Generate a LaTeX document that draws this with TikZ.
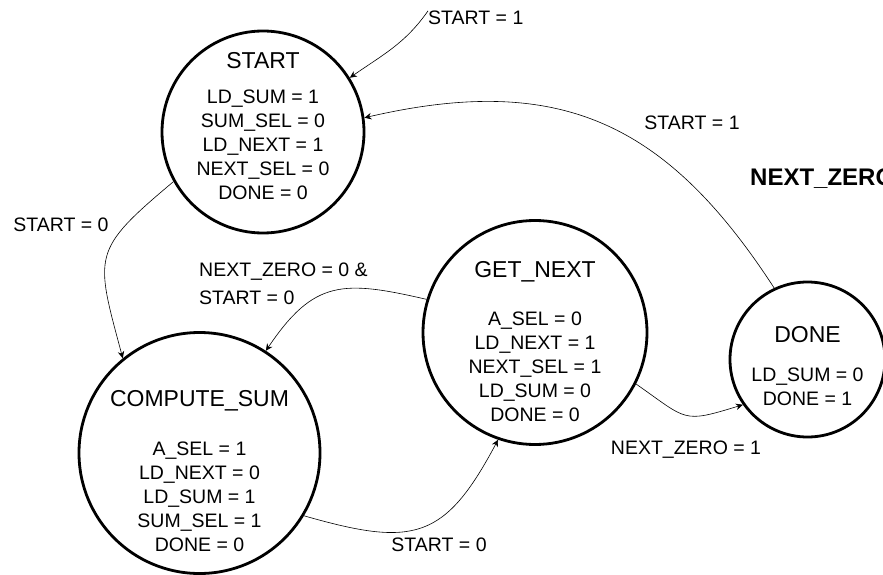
\documentclass[tikz,border=0pt]{standalone}
\usepackage{fontspec}
\setmainfont{Liberation Sans}
\usetikzlibrary{arrows.meta, calc}

\begin{document}
\begin{tikzpicture}[
    x=1pt, y=1pt,
    state/.style={draw, circle, line width=2.8pt, inner sep=0pt},
    sname/.style={inner sep=0pt, font=\fontsize{23}{27}\selectfont},
    sbody/.style={align=center, inner sep=0pt, font=\fontsize{19.5}{24}\selectfont},
    lbl/.style={inner sep=0pt, font=\fontsize{19.5}{28}\selectfont},
    arrow/.style={-{Stealth[length=7pt, width=6.5pt]}, line width=0.6pt}
]
\useasboundingbox (0,0) rectangle (883,-575);

% States
\node[state, minimum size=202pt] (start) at (263,-132) {};
\node[state, minimum size=241pt] (cs) at (199.5,-453) {};
\node[state, minimum size=224pt] (gn) at (535,-332.5) {};
\node[state, minimum size=155pt] (done) at (807.5,-359.5) {};

% State names and outputs
\node[sname] (startname) at ($(start)+(0,71)$) {START};
\node[sbody] (startout) at ($(start)+(0,-13)$) {LD\_SUM = 1\\ SUM\_SEL = 0\\ LD\_NEXT = 1\\ NEXT\_SEL = 0\\ DONE = 0};

\node[sname] (csname) at ($(cs)+(0,52)$) {COMPUTE\_SUM};
\node[sbody] (csout) at ($(cs)+(0,-43.5)$) {A\_SEL = 1\\ LD\_NEXT = 0\\ LD\_SUM = 1\\ SUM\_SEL = 1\\ DONE = 0};

\node[sname] (gnname) at ($(gn)+(0,61)$) {GET\_NEXT};
\node[sbody] (gnout) at ($(gn)+(0,-34)$) {A\_SEL = 0\\ LD\_NEXT = 1\\ NEXT\_SEL = 1\\ LD\_SUM = 0\\ DONE = 0};

\node[sname] (donename) at ($(done)+(0,24.5)$) {DONE};
\node[sbody] (doneout) at ($(done)+(0,-27)$) {LD\_SUM = 0\\ DONE = 1};

% Transition labels
\node[lbl, anchor=west] (initlbl) at (428,-18) {START = 1};
\node[lbl] (restartlbl) at (692,-123) {START = 1};
\node[lbl] (golbl) at (61,-225) {START = 0};
\node[lbl, align=left, anchor=west] (looplbl) at (199,-284) {NEXT\_ZERO = 0 \&\\ START = 0};
\node[lbl] (nextlbl) at (439,-545) {START = 0};
\node[lbl] (zerolbl) at (686,-450) {NEXT\_ZERO = 1};
\node[inner sep=0pt, anchor=west, font=\fontsize{24}{28}\selectfont\bfseries] (zerohdr) at (750,-179) {NEXT\_ZERO};

% Transitions
\draw[arrow] (initlbl.north west) to[out=235, in=35] (start.32);
\draw[arrow] (done.115) to[out=123, in=13, looseness=1.15] (start.8);
\draw[arrow] (start.209) to[out=220, in=105, looseness=1.5] (cs.129);
\draw[arrow] (gn.163) to[out=167, in=56, looseness=1.3] (cs.57);
\draw[arrow] (cs.-31) to[out=-16, in=242, looseness=1.4] (gn.251);
\draw[arrow] (gn.-27) to[out=-35, in=197, looseness=1.5] (done.215);

\end{tikzpicture}
\end{document}
